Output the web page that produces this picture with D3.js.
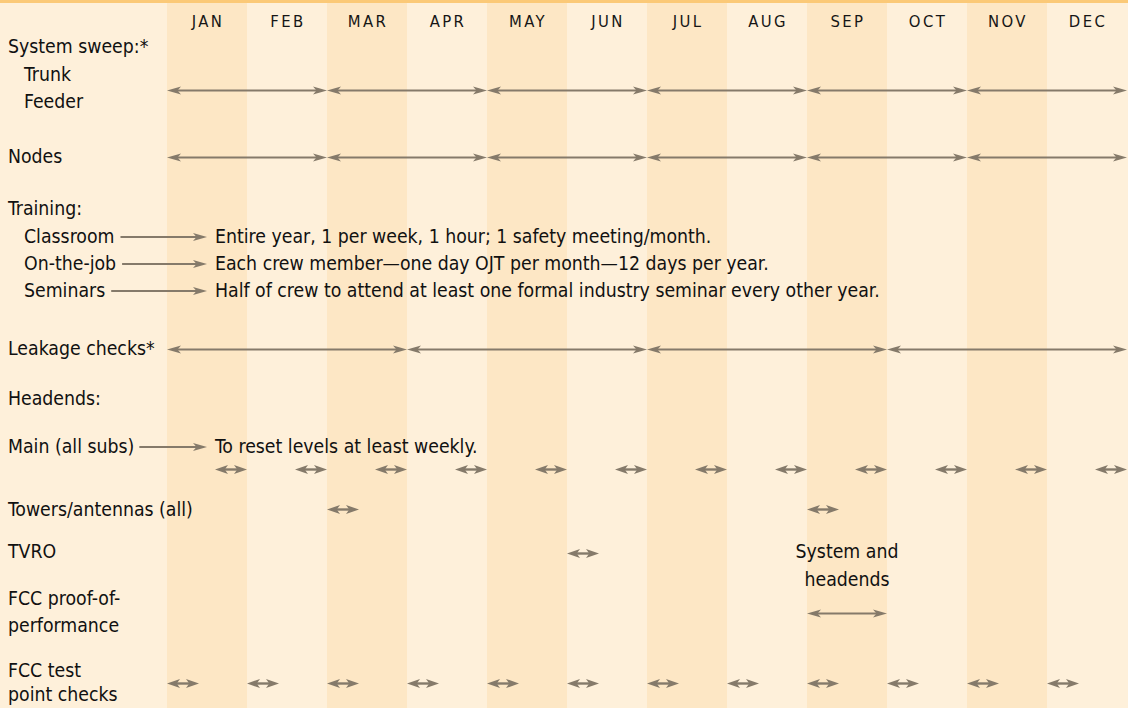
<!DOCTYPE html>
<html>
<head>
<meta charset="utf-8">
<script src="https://cdn.jsdelivr.net/npm/d3@7"></script>
<style>
  body { margin: 0; background: #fef0da; }
  svg { display: block; }
</style>
</head>
<body>
<div id="vis"></div>
<script>
// maintenance schedule data (month index 0 = JAN)
const months = ['JAN', 'FEB', 'MAR', 'APR', 'MAY', 'JUN', 'JUL', 'AUG', 'SEP', 'OCT', 'NOV', 'DEC'];
const sweepSpans = [[0, 2], [2, 4], [4, 6], [6, 8], [8, 10], [10, 12]];
const nodeSpans = [[0, 2], [2, 4], [4, 6], [6, 8], [8, 10], [10, 12]];
const leakageSpans = [[0, 3], [3, 6], [6, 9], [9, 12]];
const proofSpans = [[8, 9]];
const mainHeadendChecks = [0, 1, 2, 3, 4, 5, 6, 7, 8, 9, 10, 11]; // end of month
const towerChecks = [2, 8];   // start of month
const tvroChecks = [5];
const testPointChecks = [0, 1, 2, 3, 4, 5, 6, 7, 8, 9, 10, 11];
const trainingLabels = ['Classroom', 'On-the-job', 'Seminars'];
const trainingNotes = [
  'Entire year, 1 per week, 1 hour; 1 safety meeting/month.',
  'Each crew member\u2014one day OJT per month\u201412 days per year.',
  'Half of crew to attend at least one formal industry seminar every other year.'
];
const mainNote = 'To reset levels at least weekly.';
const proofNote = ['System and', 'headends'];

let width = 1128, height = 708;
const font = "'DejaVu Sans Condensed', 'Liberation Sans', sans-serif";
const arrowColor = '#857a6a';

let svg = d3.select('#vis').append('svg')
  .attr('width', width)
  .attr('height', height)
  .attr('viewBox', [0, 0, width, height].join(' '));

let x = d3.scaleLinear().domain([0, 12]).range([167, 1127]);

// background + month bands
svg.append('rect').attr('width', width).attr('height', height).attr('fill', '#fef0da');
svg.selectAll('.band').data(months).join('rect')
  .attr('x', (d, i) => x(i))
  .attr('y', 0)
  .attr('width', x(1) - x(0))
  .attr('height', height)
  .attr('fill', (d, i) => i % 2 == 0 ? '#fde7c5' : '#fef0da');
svg.append('rect').attr('width', width).attr('height', 3).attr('fill', '#fbc977');

// month header
svg.selectAll('.month').data(months).join('text')
  .attr('x', (d, i) => x(i + 0.5) + 1)
  .attr('y', 27)
  .attr('text-anchor', 'middle')
  .style('font-family', font)
  .style('font-size', '16.5px')
  .style('letter-spacing', '2.4px')
  .attr('fill', '#161616')
  .text(d => d);

// labels
const labels = [
  ['System sweep:*', 8, 53],
  ['Trunk', 24, 81],
  ['Feeder', 24, 108],
  ['Nodes', 8, 163],
  ['Training:', 8, 215],
  ['Leakage checks*', 8, 355],
  ['Headends:', 8, 405],
  ['Main (all subs)', 8, 453],
  ['Towers/antennas (all)', 8, 516],
  ['TVRO', 8, 558],
  ['FCC proof-of-', 8, 605],
  ['performance', 8, 632],
  ['FCC test', 8, 677],
  ['point checks', 8, 701]
];
const trainY = [243, 270, 297];

function txt(s, px, py, anchor) {
  return svg.append('text')
    .attr('x', px).attr('y', py)
    .attr('text-anchor', anchor || 'start')
    .style('font-family', font)
    .style('font-size', '19.3px')
    .attr('fill', '#111')
    .text(s);
}
labels.forEach(l => txt(l[0], l[1], l[2]));

// arrow helpers
function head(tipX, y, dir, len, hw) {
  let b = tipX - dir * len, n = tipX - dir * len * 0.75;
  return `M${tipX},${y}L${b},${y - hw}L${n},${y}L${b},${y + hw}Z`;
}
function longArrow(x0, x1, y, both) {
  let g = svg.append('g');
  g.append('line').attr('x1', both ? x0 + 6 : x0).attr('x2', x1 - 6)
    .attr('y1', y).attr('y2', y)
    .attr('stroke', arrowColor).attr('stroke-width', 2);
  g.append('path').attr('d', head(x1, y, 1, 14, 4)).attr('fill', arrowColor);
  if (both) g.append('path').attr('d', head(x0, y, -1, 14, 4)).attr('fill', arrowColor);
}
function shortArrow(x0, x1, y) {
  let g = svg.append('g');
  g.append('line').attr('x1', x0 + 6).attr('x2', x1 - 6)
    .attr('y1', y).attr('y2', y)
    .attr('stroke', arrowColor).attr('stroke-width', 2.4);
  g.append('path').attr('d', head(x1, y, 1, 13, 4.6)).attr('fill', arrowColor);
  g.append('path').attr('d', head(x0, y, -1, 13, 4.6)).attr('fill', arrowColor);
}

sweepSpans.forEach(s => longArrow(x(s[0]), x(s[1]), 90.5, true));
nodeSpans.forEach(s => longArrow(x(s[0]), x(s[1]), 157.5, true));
leakageSpans.forEach(s => longArrow(x(s[0]), x(s[1]), 349.5, true));
proofSpans.forEach(s => longArrow(x(s[0]), x(s[1]), 613.5, true));

// training
trainingLabels.forEach((t, i) => {
  let lab = txt(t, 24, trainY[i]);
  let w = lab.node().getComputedTextLength();
  longArrow(24 + w + 6, 207, trainY[i] - 6, false);
  txt(trainingNotes[i], 215, trainY[i]);
});

// main headend note
{
  let w = svg.selectAll('text').filter(function () { return d3.select(this).text() == 'Main (all subs)'; })
    .node().getComputedTextLength();
  longArrow(8 + w + 5, 207, 447, false);
  txt(mainNote, 215, 453);
}

const smallW = 0.4;
mainHeadendChecks.forEach(m => shortArrow(x(m + 1 - smallW), x(m + 1), 469.5));
towerChecks.forEach(m => shortArrow(x(m), x(m + smallW), 509.5));
tvroChecks.forEach(m => shortArrow(x(m), x(m + smallW), 553.5));
testPointChecks.forEach(m => shortArrow(x(m), x(m + smallW), 683.5));

// proof-of-performance note
proofNote.forEach((s, i) => txt(s, x(proofSpans[0][0] + 0.5), 558 + i * 28, 'middle'));
</script>
</body>
</html>
